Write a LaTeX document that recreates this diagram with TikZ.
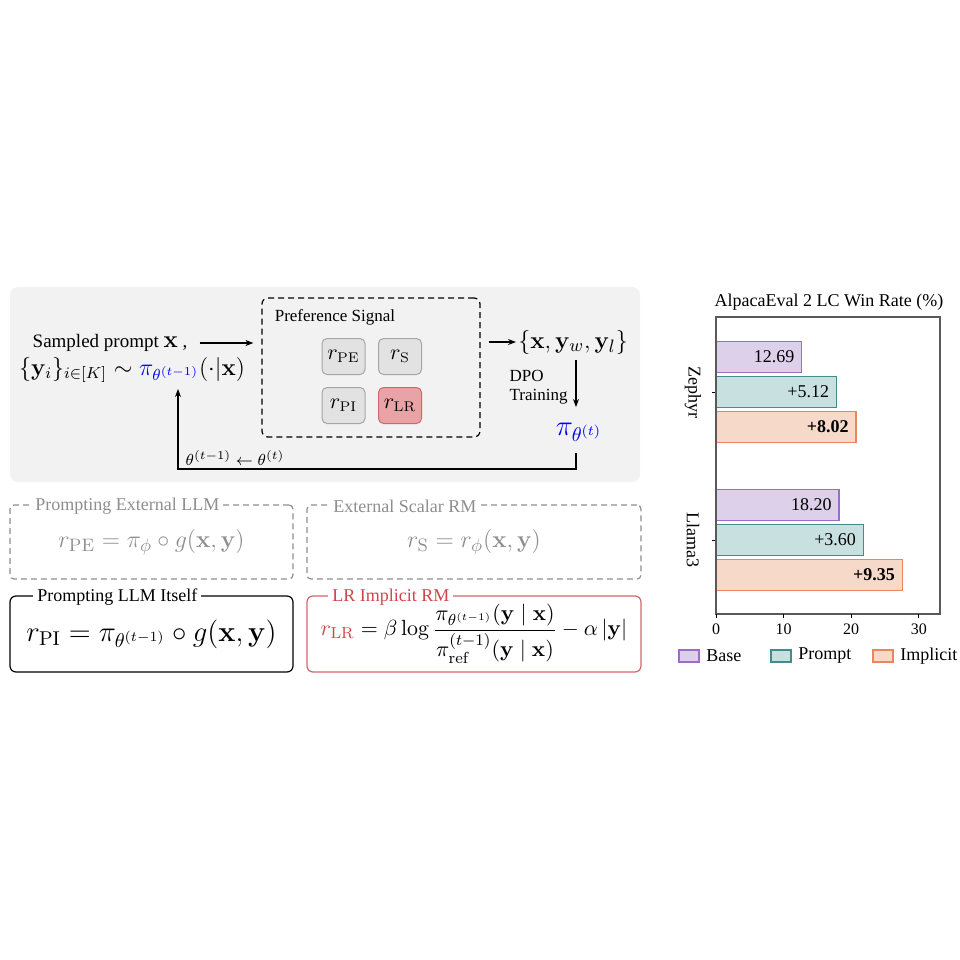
\documentclass[tikz,border=0pt]{standalone}
\usepackage{amsmath, amssymb}
\usepackage[no-math]{fontspec}
\setmainfont{Liberation Serif}
\usepackage{xcolor}
\usepackage{tikz}
\usetikzlibrary{arrows.meta,positioning,calc}

\definecolor{panelgray}{HTML}{F2F2F2}
\definecolor{chipgray}{HTML}{E2E2E2}
\definecolor{chipedge}{HTML}{A6A6A6}
\definecolor{lrfill}{HTML}{E9A3A6}
\definecolor{lredge}{HTML}{D2676B}
\definecolor{lrred}{HTML}{D0454A}
\definecolor{softgray}{HTML}{8E8E8E}
\definecolor{basefill}{HTML}{DDD0EA}
\definecolor{baseedge}{HTML}{9B6DC8}
\definecolor{promptfill}{HTML}{C8E1E0}
\definecolor{promptedge}{HTML}{3F8E8C}
\definecolor{implfill}{HTML}{F7D9CA}
\definecolor{impledge}{HTML}{EA865C}

\newcommand{\fs}[1]{\fontsize{#1}{#1}\selectfont}

\begin{document}
\begin{tikzpicture}[x=0.5pt, y=-0.5pt,
    line_edge/.style={-{Stealth[length=4pt, width=3pt]}, line width=0.6pt},
    plain_text/.style={inner sep=1pt, font=\fs{9}},
    chip/.style={draw=chipedge, fill=chipgray, rounded corners=2.5pt, line width=0.5pt,
        minimum width=21.5pt, minimum height=18pt, inner sep=0pt, font=\fs{10.5}},
    lr_chip/.style={chip, draw=lredge, fill=lrfill},
    signal_box/.style={draw, dashed, rounded corners=3pt, line width=0.6pt,
        dash pattern=on 3pt off 2pt, minimum width=109pt, minimum height=69.5pt},
    ext_box/.style={draw=softgray, dashed, dash pattern=on 3pt off 2pt, line width=0.6pt,
        rounded corners=2pt, text=softgray, font=\fs{13}},
    own_box/.style={draw, line width=0.6pt, rounded corners=3pt, font=\fs{14.2}},
    lr_box/.style={draw=lredge, line width=0.6pt, rounded corners=3pt, font=\fs{11}},
    box_title/.style={fill=white, inner sep=2pt, anchor=west, font=\fs{9}},
    bar/.style={line width=0.6pt},
    base_bar/.style={bar, draw=baseedge, fill=basefill},
    prompt_bar/.style={bar, draw=promptedge, fill=promptfill},
    impl_bar/.style={bar, draw=impledge, fill=implfill}
]

    % --- Background panel ---
    \draw[fill=panelgray, draw=none, rounded corners=4pt] (10,287) rectangle (640,482);
    \useasboundingbox (0,0) rectangle (960,960);

    % --- Sampling ---
    \node[plain_text, font=\fs{9.5}] (prompt) at (110,343)
        {Sampled prompt {\fs{12.5}$\mathbf{x}$} ,};
    \node[plain_text, font=\fs{11.6}] (samples) at (132,370)
        {$\{\mathbf{y}_i\}_{i\in[K]}\sim{\color{blue}\pi_{\theta^{(t-1)}}}(\cdot|\mathbf{x})$};

    % --- Preference signal ---
    \node[signal_box] (signal) at (371,367.5) {};
    \node[plain_text, font=\fs{8.5}] (signal_title) at (335,317) {Preference Signal};
    \node[chip] (r_pe) at (343.5,356.5) {$r_{\mathrm{PE}}$};
    \node[chip] (r_s) at (400,356.5) {$r_{\mathrm{S}}$};
    \node[chip] (r_pi) at (343.5,405.5) {$r_{\mathrm{PI}}$};
    \node[lr_chip] (r_lr) at (400,405.5) {$r_{\mathrm{LR}}$};

    % --- Pairs and update ---
    \node[plain_text, font=\fs{12.6}, anchor=west] (pair) at (516,342)
        {$\{\mathbf{x},\mathbf{y}_w,\mathbf{y}_l\}$};
    \node[plain_text, font=\fs{14.6}, text=blue] (pi_t) at (579,432) {$\pi_{\theta^{(t)}}$};
    \node[plain_text, align=left, anchor=east, font=\fs{8.5}] (dpo) at (570,387) {DPO\\[1pt]Training};
    \coordinate (dpo_top) at (576,360);
    \coordinate (dpo_end) at (576,407);
    \coordinate (fb_start) at (576,453);
    \coordinate (fb_corner) at (576,469);
    \coordinate (fb_end) at (178,389);

    % --- Edges ---
    \draw[line_edge, shorten <=5pt, shorten >=4pt] (prompt.east) -- (prompt.east -| signal.west);
    \draw[line_edge, shorten <=4pt] (signal.east |- pair.west) -- (pair.west);
    \draw[line_edge] (dpo_top) -- (dpo_end);
    \draw[line_edge] (fb_start) -- (fb_corner) -| (fb_end);
    \node[plain_text, font=\fs{8.5}] (theta_lab) at (235,458) {$\theta^{(t-1)}\leftarrow\theta^{(t)}$};

    % --- Reward model boxes ---
    \node[ext_box, minimum width=141.5pt, minimum height=37pt] (pe_box) at (151.5,542)
        {$r_{\mathrm{PE}}=\pi_{\phi}\circ g(\mathbf{x},\mathbf{y})$};
    \node[box_title, text=softgray] (pe_title) at (31,506) {Prompting External LLM};
    \node[ext_box, minimum width=167pt, minimum height=37pt] (s_box) at (474,542)
        {$r_{\mathrm{S}}=r_{\phi}(\mathbf{x},\mathbf{y})$};
    \node[box_title, text=softgray] (s_title) at (329,506) {External Scalar RM};
    \node[own_box, minimum width=141.5pt, minimum height=38pt] (pi_box) at (151.5,634)
        {$r_{\mathrm{PI}}=\pi_{\theta^{(t-1)}}\circ g(\mathbf{x},\mathbf{y})$};
    \node[box_title] (pi_title) at (33,597) {Prompting LLM Itself};
    \node[lr_box, minimum width=167pt, minimum height=38pt, inner sep=0pt] (lr_box) at (474,634)
        {${\color{lrred}r_{\mathrm{LR}}}=\beta\log\dfrac{\pi_{\theta^{(t-1)}}(\mathbf{y}\mid\mathbf{x})}
        {\pi_{\mathrm{ref}}^{(t-1)}(\mathbf{y}\mid\mathbf{x})}-\alpha\left|\mathbf{y}\right|$};
    \node[box_title, text=lrred] (lr_title) at (328,597) {LR Implicit RM};

    % --- Chart ---
    \node[plain_text] (chart_title) at (829,302) {AlpacaEval 2 LC Win Rate (\%)};
    \foreach \yc/\vb/\vp/\vi/\lb/\lp/\li in {392/12.69/17.81/20.71/12.69/+5.12/+8.02,
                                            540/18.20/21.80/27.55/18.20/+3.60/+9.35}{
        \draw[base_bar] (716,\yc-50.5) rectangle ({716+6.76*\vb},\yc-19.5);
        \node[plain_text, anchor=east] at ({716+6.76*\vb-5},\yc-35) {\lb};
        \draw[prompt_bar] (716,\yc-15.5) rectangle ({716+6.76*\vp},\yc+15.5);
        \node[plain_text, anchor=east] at ({716+6.76*\vp-5},\yc) {\lp};
        \draw[impl_bar] (716,\yc+19.5) rectangle ({716+6.76*\vi},\yc+50.5);
        \node[plain_text, anchor=east] at ({716+6.76*\vi-5},\yc+35) {\textbf{\li}};
        \draw[line width=0.5pt] (712,\yc) -- (716,\yc);
    }
    \draw[line width=0.6pt, draw=black!65] (716,317) rectangle (940,614);
    \foreach \t in {0,10,20,30}{
        \draw[line width=0.5pt] ({716+6.76*\t},614) -- ({716+6.76*\t},618);
        \node[plain_text, font=\fs{8}] at ({716+6.76*\t},629) {\t};
    }
    \node[plain_text, rotate=-90] (zephyr_lab) at (693,392) {Zephyr};
    \node[plain_text, rotate=-90] (llama_lab) at (693,540) {Llama3};

    % --- Legend ---
    \draw[base_bar] (679,650) rectangle (699,662);
    \node[plain_text, anchor=west] (base_lab) at (704,656) {Base};
    \draw[prompt_bar] (771,650) rectangle (791,662);
    \node[plain_text, anchor=west] (prompt_lab) at (796,656) {Prompt};
    \draw[impl_bar] (873,650) rectangle (893,662);
    \node[plain_text, anchor=west] (impl_lab) at (898,656) {Implicit};

\end{tikzpicture}
\end{document}
